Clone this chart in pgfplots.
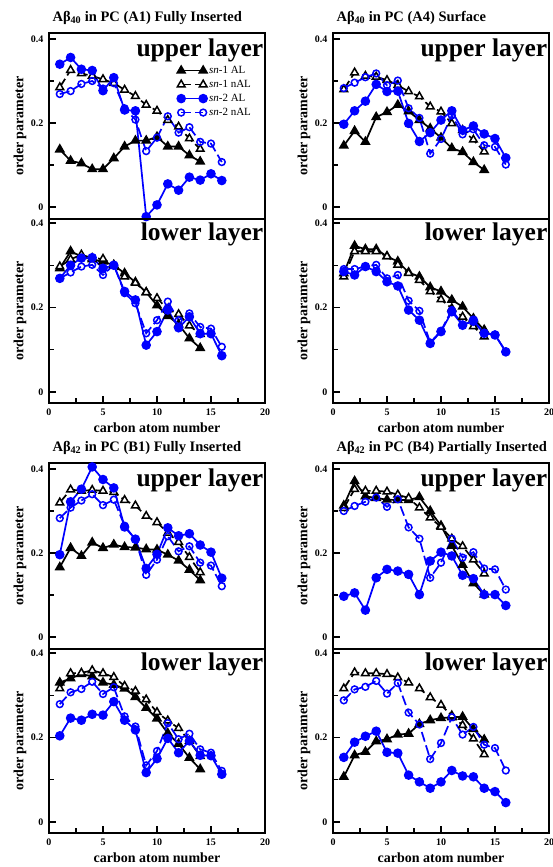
\documentclass[border=0pt]{standalone}
\usepackage{fontspec}
\setmainfont{Liberation Serif}
\usepackage{pgfplots}
\usepackage{pgfplotstable}
\pgfplotsset{compat=1.18}

% columns: carbon, sn-1 AL, sn-1 nAL, sn-2 AL, sn-2 nAL
\pgfplotstableread{
x s1a s1n s2a s2n
1 0.137 0.285 0.340 0.269
2 0.110 0.326 0.356 0.276
3 0.104 0.318 0.328 0.293
4 0.090 0.312 0.325 0.300
5 0.090 0.304 0.277 0.282
6 0.116 0.295 0.308 0.295
7 0.144 0.279 0.231 0.235
8 0.158 0.264 0.229 0.208
9 0.158 0.243 -0.023 0.133
10 0.167 0.229 0.005 0.165
11 0.144 0.207 0.055 0.216
12 0.144 0.191 0.040 0.177
13 0.123 0.163 0.071 0.190
14 0.108 0.138 0.064 0.155
15 nan nan 0.079 0.151
16 nan nan 0.063 0.107
}\tlu
\pgfplotstableread{
x s1a s1n s2a s2n
1 0.293 0.297 0.269 0.269
2 0.333 0.314 0.300 0.283
3 0.321 0.325 0.317 0.297
4 0.314 0.317 0.318 0.301
5 0.309 0.315 0.293 0.277
6 0.300 0.301 0.300 0.301
7 0.281 0.273 0.238 0.234
8 0.260 0.258 0.218 0.210
9 0.236 0.236 0.111 0.139
10 0.205 0.222 0.143 0.170
11 0.180 0.196 0.194 0.214
12 0.160 0.184 0.152 0.170
13 0.127 0.157 0.178 0.186
14 0.104 0.137 0.138 0.154
15 nan nan 0.138 0.150
16 nan nan 0.086 0.107
}\tll
\pgfplotstableread{
x s1a s1n s2a s2n
1 0.146 0.280 0.197 0.283
2 0.181 0.320 0.229 0.296
3 0.155 0.312 0.252 0.309
4 0.214 0.310 0.292 0.318
5 0.226 0.302 0.275 0.290
6 0.243 0.290 0.276 0.301
7 0.228 0.275 0.199 0.235
8 0.207 0.263 0.156 0.212
9 0.187 0.239 0.177 0.127
10 0.165 0.227 0.207 0.162
11 0.140 0.199 0.229 0.218
12 0.131 0.183 0.183 0.173
13 0.107 0.160 0.193 0.185
14 0.088 0.132 0.174 0.147
15 nan nan 0.163 0.143
16 nan nan 0.117 0.101
}\tru
\pgfplotstableread{
x s1a s1n s2a s2n
1 0.281 0.273 0.285 0.291
2 0.346 0.333 0.277 0.291
3 0.338 0.333 0.297 0.297
4 0.338 0.333 0.285 0.301
5 0.321 0.321 0.261 0.269
6 0.309 0.301 0.251 0.277
7 0.283 0.281 0.194 0.216
8 0.273 0.265 0.170 0.192
9 0.248 0.238 0.115 0.117
10 0.238 0.219 0.143 0.145
11 0.218 0.198 0.190 0.194
12 0.202 0.178 0.158 0.160
13 0.174 0.155 0.170 0.166
14 0.147 0.131 0.139 0.140
15 nan nan 0.135 0.136
16 nan nan 0.095 0.096
}\trl
\pgfplotstableread{
x s1a s1n s2a s2n
1 0.166 0.320 0.196 0.283
2 0.212 0.351 0.322 0.308
3 0.193 0.348 0.352 0.325
4 0.225 0.350 0.405 0.340
5 0.212 0.348 0.375 0.314
6 0.220 0.345 0.355 0.327
7 0.214 0.326 0.262 0.265
8 0.213 0.313 0.233 0.232
9 0.209 0.288 0.163 0.148
10 0.208 0.273 0.197 0.184
11 0.196 0.248 0.260 0.240
12 0.182 0.226 0.241 0.204
13 0.160 0.190 0.246 0.216
14 0.135 0.154 0.219 0.177
15 nan nan 0.202 0.170
16 nan nan 0.140 0.121
}\blu
\pgfplotstableread{
x s1a s1n s2a s2n
1 0.330 0.316 0.204 0.279
2 0.340 0.352 0.246 0.307
3 0.350 0.353 0.241 0.315
4 0.345 0.359 0.255 0.332
5 0.330 0.352 0.253 0.303
6 0.325 0.343 0.285 0.319
7 0.316 0.322 0.241 0.250
8 0.296 0.310 0.218 0.226
9 0.270 0.290 0.117 0.134
10 0.245 0.260 0.150 0.168
11 0.210 0.240 0.198 0.234
12 0.185 0.222 0.164 0.196
13 0.152 0.192 0.192 0.209
14 0.125 0.156 0.158 0.172
15 nan nan 0.157 0.164
16 nan nan 0.113 0.121
}\bll
\pgfplotstableread{
x s1a s1n s2a s2n
1 0.313 0.307 0.097 0.300
2 0.371 0.352 0.105 0.312
3 0.335 0.348 0.064 0.322
4 0.331 0.348 0.141 0.332
5 0.327 0.346 0.161 0.310
6 0.326 0.339 0.157 0.328
7 0.326 0.331 0.149 0.261
8 0.333 0.308 0.101 0.234
9 0.300 0.284 0.181 0.141
10 0.265 0.262 0.202 0.177
11 0.217 0.234 0.193 0.234
12 0.172 0.216 0.147 0.189
13 0.128 0.184 0.139 0.202
14 0.101 0.151 0.101 0.163
15 nan nan 0.101 0.161
16 nan nan 0.075 0.113
}\bru
\pgfplotstableread{
x s1a s1n s2a s2n
1 0.107 0.316 0.153 0.288
2 0.158 0.354 0.189 0.314
3 0.166 0.352 0.203 0.320
4 0.191 0.352 0.215 0.334
5 0.196 0.350 0.165 0.304
6 0.207 0.342 0.163 0.329
7 0.209 0.330 0.111 0.259
8 0.232 0.316 0.095 0.231
9 0.241 0.295 0.080 0.149
10 0.246 0.277 0.095 0.187
11 0.248 0.252 0.122 0.248
12 0.249 0.229 0.109 0.207
13 0.220 0.197 0.107 0.225
14 0.195 0.160 0.080 0.183
15 nan nan 0.072 0.175
16 nan nan 0.046 0.122
}\brl

\pgfplotsset{
  s1a/.style={black, line width=1.7pt, mark=triangle*, mark size=4.4pt, mark options={solid}},
  s1n/.style={black, line width=1.7pt, dash pattern=on 10pt off 4pt, mark=triangle*, mark size=4.4pt,
    mark options={solid, fill=white, line width=1.5pt}},
  s2a/.style={blue, line width=1.7pt, mark=*, mark size=3.9pt, mark options={solid}},
  s2n/.style={blue, line width=1.7pt, dash pattern=on 10pt off 4pt, mark=o, mark size=3.4pt,
    mark options={solid, line width=1.5pt}},
  base/.style={scale only axis, width=216pt, xmin=0, xmax=20,
    axis line style={line width=1.6pt}, tick align=inside,
    tick style={line width=1.1pt, black}, major tick length=7pt, minor tick length=5pt,
    ytick={0,0.2,0.4}, yticklabels={0,0.2,0.4}, minor ytick={0.1,0.3}, ytick pos=left,
    yticklabel style={font=\bfseries\fontsize{10}{12}\selectfont, xshift=-2pt},
    xticklabel style={font=\bfseries\fontsize{10}{12}\selectfont, yshift=-2pt},
    ylabel={order parameter},
    every axis y label/.style={at={(axis description cs:-0.134,0.5)}, rotate=90, anchor=center,
      font=\bfseries\fontsize{14}{16}\selectfont},
    every axis x label/.style={at={(axis description cs:0.5,0)}, anchor=center, yshift=-25pt,
      font=\bfseries\fontsize{14}{16}\selectfont},
    title style={at={(0,1)}, anchor=base west, yshift=6pt, xshift=0pt,
      font=\bfseries\fontsize{14.5}{16}\selectfont},
    legend image code/.code={\draw[#1] plot coordinates {(0pt,0pt) (22pt,0pt)};},
  },
  up/.style={base, height=186pt, ymin=-0.0286, ymax=0.4143, xtick=\empty},
  lo/.style={base, height=184pt, ymin=-0.026, ymax=0.4095,
    xtick={0,5,10,15,20}, xticklabels={0,5,10,15,20}, minor xtick={2.5,7.5,12.5,17.5},
    xtick pos=bottom, xlabel={carbon atom number}},
}
\newcommand{\four}[1]{%
  \addplot[s1a] table[x=x, y=s1a] {#1};
  \addplot[s1n] table[x=x, y=s1n] {#1};
  \addplot[s2a] table[x=x, y=s2a] {#1};
  \addplot[s2n] table[x=x, y=s2n] {#1};
}
\newcommand{\lay}[2]{\node[anchor=north east, inner sep=0pt, font=\bfseries\fontsize{25.5}{27}\selectfont]
  at (rel axis cs:1,1) [xshift=-1.5pt, yshift=#2] {#1};}

\begin{document}
\begin{tikzpicture}
\useasboundingbox (0,0) rectangle (552pt,-867pt);

% A1
\begin{axis}[up, at={(49pt,-219pt)}, anchor=south west,
  title={Aβ\textsubscript{40} in PC (A1) Fully Inserted},
  legend style={draw=none, fill=none, at={(0.593,0.833)}, anchor=north west,
    font=\fontsize{11}{12}\selectfont, row sep=1.2pt, inner sep=0pt},
  legend cell align=left]
  \four{\tlu}
  \legend{\textit{sn}-1 AL, \textit{sn}-1 nAL, \textit{sn}-2 AL, \textit{sn}-2 nAL}
  \lay{upper layer}{-6pt}
\end{axis}
\begin{axis}[lo, at={(49pt,-219pt)}, anchor=north west]
  \four{\tll}
  \lay{lower layer}{-4pt}
\end{axis}

% A4
\begin{axis}[up, at={(333pt,-219pt)}, anchor=south west,
  title={Aβ\textsubscript{40} in PC (A4) Surface}]
  \four{\tru}
  \lay{upper layer}{-6pt}
\end{axis}
\begin{axis}[lo, at={(333pt,-219pt)}, anchor=north west]
  \four{\trl}
  \lay{lower layer}{-4pt}
\end{axis}

% B1
\begin{axis}[up, at={(49pt,-649pt)}, anchor=south west,
  title={Aβ\textsubscript{42} in PC (B1) Fully Inserted}]
  \four{\blu}
  \lay{upper layer}{-6pt}
\end{axis}
\begin{axis}[lo, at={(49pt,-649pt)}, anchor=north west]
  \four{\bll}
  \lay{lower layer}{-4pt}
\end{axis}

% B4
\begin{axis}[up, at={(333pt,-649pt)}, anchor=south west,
  title={Aβ\textsubscript{42} in PC (B4) Partially Inserted}]
  \four{\bru}
  \lay{upper layer}{-6pt}
\end{axis}
\begin{axis}[lo, at={(333pt,-649pt)}, anchor=north west]
  \four{\brl}
  \lay{lower layer}{-4pt}
\end{axis}
\end{tikzpicture}
\end{document}
